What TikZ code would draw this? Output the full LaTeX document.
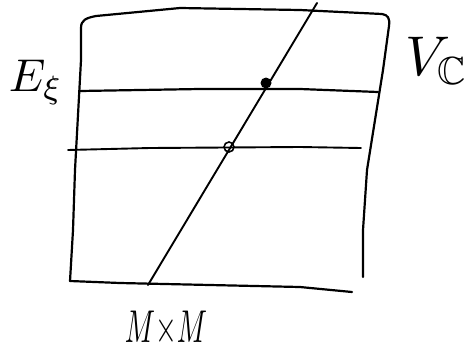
\documentclass[tikz,border=0pt]{standalone}
\usepackage{amssymb}
\begin{document}
\begin{tikzpicture}[x=1pt,y=-1pt,
  stroke/.style={line width=2.2pt,line cap=round,line join=round},
  thin stroke/.style={line width=1.9pt,line cap=round,line join=round},
  lbl/.style={inner sep=0pt,anchor=center}]
\useasboundingbox (0,0) rectangle (474,354);
% box
\draw[stroke] (70,281) -- (73,230) -- (75,170) -- (81,60) -- (81,28)
  .. controls (81,20) and (86,18) .. (96,16) -- (180,8) -- (300,10) -- (382,14)
  .. controls (388,15) and (390,18) .. (389,26) -- (383,70) -- (367,170) -- (363,230) -- (363,277);
\draw[stroke] (70,281) -- (120,283) -- (300,287) -- (352,292);
% horizontal lines
\draw[stroke] (80,91) -- (200,89) -- (300,89) -- (378,92);
\draw[thin stroke] (68,150) -- (150,148) -- (300,147) -- (361,148);
% diagonal line
\coordinate (db) at (148,285);
\coordinate (dt) at (317,3);
\draw[thin stroke] (db) -- (dt);
% points
\node[circle,fill=black,minimum size=11pt,inner sep=0pt] (p1) at (266,83) {};
\node[circle,draw=black,line width=1.6pt,minimum size=10pt,inner sep=0pt] (p2) at (229,147) {};
% labels
\node[lbl] (E) at (36,82) {\scalebox{4.6}{$E_{\xi}$}};
\node[lbl] (V) at (437,61) {\scalebox{5.6}{$V_{\mathbb{C}}$}};
\node[lbl] (M) at (166,329) {\scalebox{2.8}[4.6]{$M{\times}M$}};
\end{tikzpicture}
\end{document}
